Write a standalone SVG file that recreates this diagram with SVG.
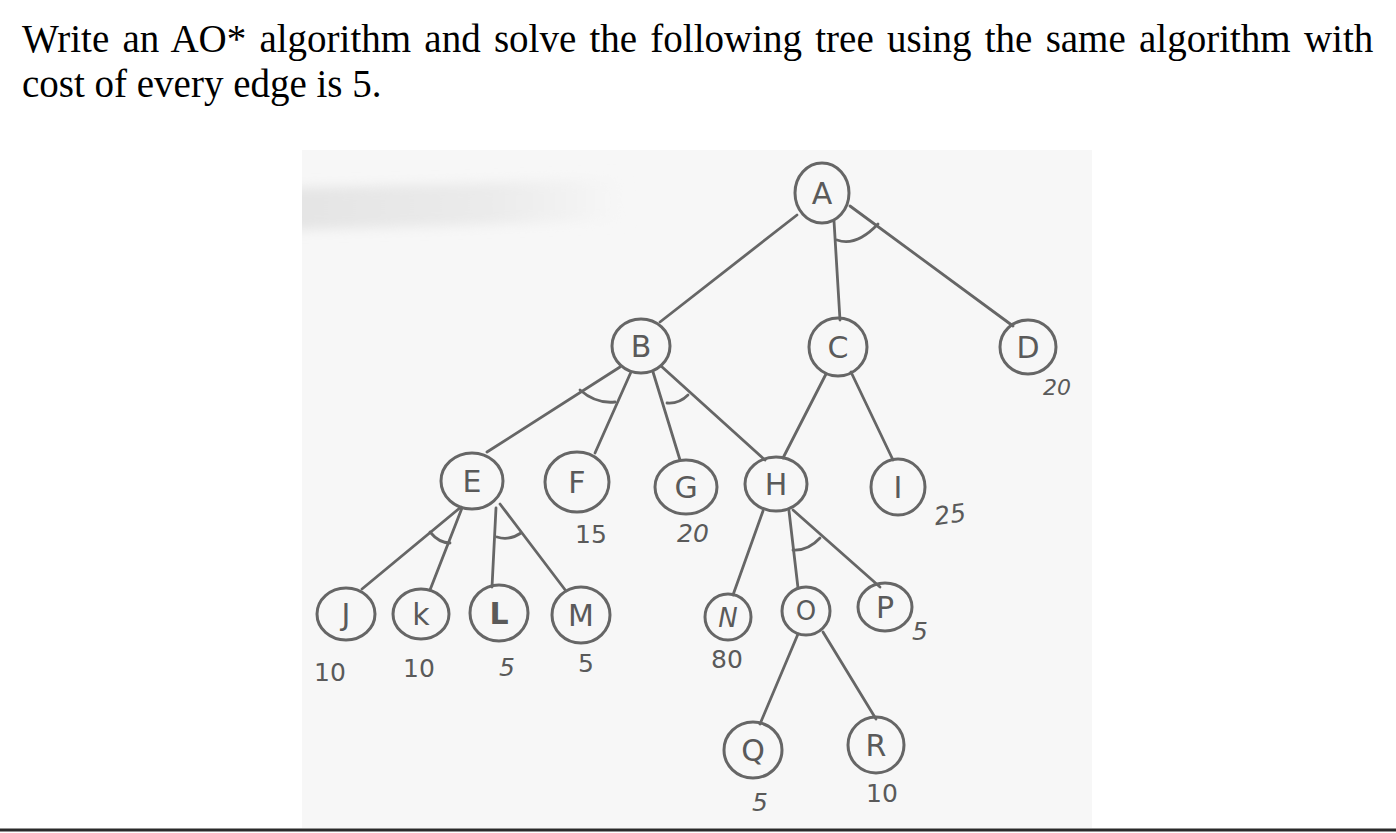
<svg xmlns="http://www.w3.org/2000/svg" width="1396" height="833" viewBox="0 0 1396 833">
<defs>
<linearGradient id="smudge" x1="0" y1="0" x2="1" y2="0">
<stop offset="0" stop-color="#e4e4e4"/>
<stop offset="0.6" stop-color="#ebebeb"/>
<stop offset="1" stop-color="#f7f7f7"/>
</linearGradient>
<filter id="blur" x="-10%" y="-50%" width="120%" height="200%"><feGaussianBlur stdDeviation="6"/></filter>
<clipPath id="photo"><rect x="302" y="150" width="790" height="678"/></clipPath>
<style>
.title{font-family:"Liberation Serif","Times New Roman",serif;font-size:39px;fill:#000;}
.node ellipse{fill:none;stroke:#666666;stroke-width:3;}
.node text{font-family:"DejaVu Sans","Liberation Sans",sans-serif;font-size:30px;fill:#5a5a5a;text-anchor:middle;}
.num{font-family:"DejaVu Sans","Liberation Sans",sans-serif;font-size:25px;fill:#5a5a5a;text-anchor:middle;}
.it{font-style:italic;}
.edges path{fill:none;stroke:#666666;stroke-width:2.8;stroke-linecap:round;}
</style>
</defs>
<rect width="1396" height="833" fill="#ffffff"/>
<text class="title" x="22" y="52" word-spacing="3.5">Write an AO* algorithm and solve the following tree using the same algorithm with</text>
<text class="title" x="22" y="97">cost of every edge is 5.</text>
<rect x="302" y="150" width="790" height="678" fill="#f7f7f7"/>
<g clip-path="url(#photo)">
<path d="M290,188 L450,184 L620,178 L625,220 L450,226 L290,230 Z" fill="url(#smudge)" filter="url(#blur)"/>
</g>
<line x1="0" y1="830" x2="1396" y2="830" stroke="#2a2a2a" stroke-width="3"/>
<g class="edges" id="connectors">
<path d="M797,215 L660,322"/>
<path d="M834,221 L840,320"/>
<path d="M850,206 L1013,326"/>
<path d="M620,367 L487,452"/>
<path d="M631,372 L595,453"/>
<path d="M653,372 L680,460"/>
<path d="M661,366 L765,460"/>
<path d="M826,374 L783,458"/>
<path d="M851,372 L893,460"/>
<path d="M461,507 L362,589"/>
<path d="M462,508 L430,590"/>
<path d="M496,508 L492,587"/>
<path d="M500,504 L566,591"/>
<path d="M763,511 L733,595"/>
<path d="M789,511 L798,588"/>
<path d="M793,510 L880,587"/>
<path d="M798,634 L760,724"/>
<path d="M823,632 L876,719"/>
<path d="M837,240 Q856,247 878,224"/>
<path d="M580,390 Q596,404 615,402"/>
<path d="M667,403 Q679,404 688,395"/>
<path d="M430,532 Q439,543 450,543"/>
<path d="M497,537 Q509,541 521,533"/>
<path d="M793,550 Q808,551 820,538"/>
</g>
<g class="node" id="A"><ellipse cx="822" cy="193" rx="27" ry="30"/><text x="822" y="204">A</text></g>
<g class="node" id="B"><ellipse cx="641" cy="346" rx="29" ry="27"/><text x="641" y="357">B</text></g>
<g class="node" id="C"><ellipse cx="838" cy="347" rx="29" ry="29"/><text x="838" y="358">C</text></g>
<g class="node" id="D"><ellipse cx="1028" cy="347" rx="28" ry="27"/><text x="1028" y="358">D</text></g>
<g class="node" id="E"><ellipse cx="472" cy="481" rx="31" ry="28"/><text x="472" y="492">E</text></g>
<g class="node" id="F"><ellipse cx="577" cy="482" rx="32" ry="30"/><text x="577" y="493">F</text></g>
<g class="node" id="G"><ellipse cx="686" cy="487" rx="31" ry="27"/><text x="686" y="498">G</text></g>
<g class="node" id="H"><ellipse cx="776" cy="484" rx="31" ry="27"/><text x="776" y="495">H</text></g>
<g class="node" id="I"><ellipse cx="898" cy="487" rx="27" ry="28"/><text x="898" y="498">I</text></g>
<g class="node" id="J"><ellipse cx="346" cy="614" rx="29" ry="26"/><text x="346" y="625">J</text></g>
<g class="node" id="K"><ellipse cx="421" cy="614" rx="28" ry="25"/><text x="421" y="625">k</text></g>
<g class="node" id="L"><ellipse cx="499" cy="613" rx="29" ry="28"/><text x="499" y="624" style="font-weight:bold">L</text></g>
<g class="node" id="M"><ellipse cx="581" cy="615" rx="29" ry="28"/><text x="581" y="626">M</text></g>
<g class="node" id="N"><ellipse cx="728" cy="617" rx="23" ry="23"/><text x="728" y="627" style="font-style:italic;font-size:26px">N</text></g>
<g class="node" id="O"><ellipse cx="806" cy="611" rx="24" ry="24"/><text x="806" y="620" style="font-size:26px">O</text></g>
<g class="node" id="P"><ellipse cx="885" cy="607" rx="27" ry="24"/><text x="885" y="618">P</text></g>
<g class="node" id="Q"><ellipse cx="753" cy="750" rx="29" ry="28"/><text x="753" y="761">Q</text></g>
<g class="node" id="R"><ellipse cx="876" cy="745" rx="28" ry="28"/><text x="876" y="756">R</text></g>
<g id="costs">
<text class="num it" x="1057" y="395" style="font-size:22px">20</text>
<text class="num" x="591" y="543">15</text>
<text class="num it" x="693" y="542">20</text>
<text class="num it" x="950" y="523" transform="rotate(-8 950 514)">25</text>
<text class="num it" x="920" y="640">5</text>
<text class="num" x="727" y="668">80</text>
<text class="num" x="330" y="681">10</text>
<text class="num" x="419" y="677">10</text>
<text class="num it" x="507" y="676">5</text>
<text class="num" x="586" y="672">5</text>
<text class="num it" x="760" y="811">5</text>
<text class="num" x="882" y="802">10</text>
</g>
</svg>
